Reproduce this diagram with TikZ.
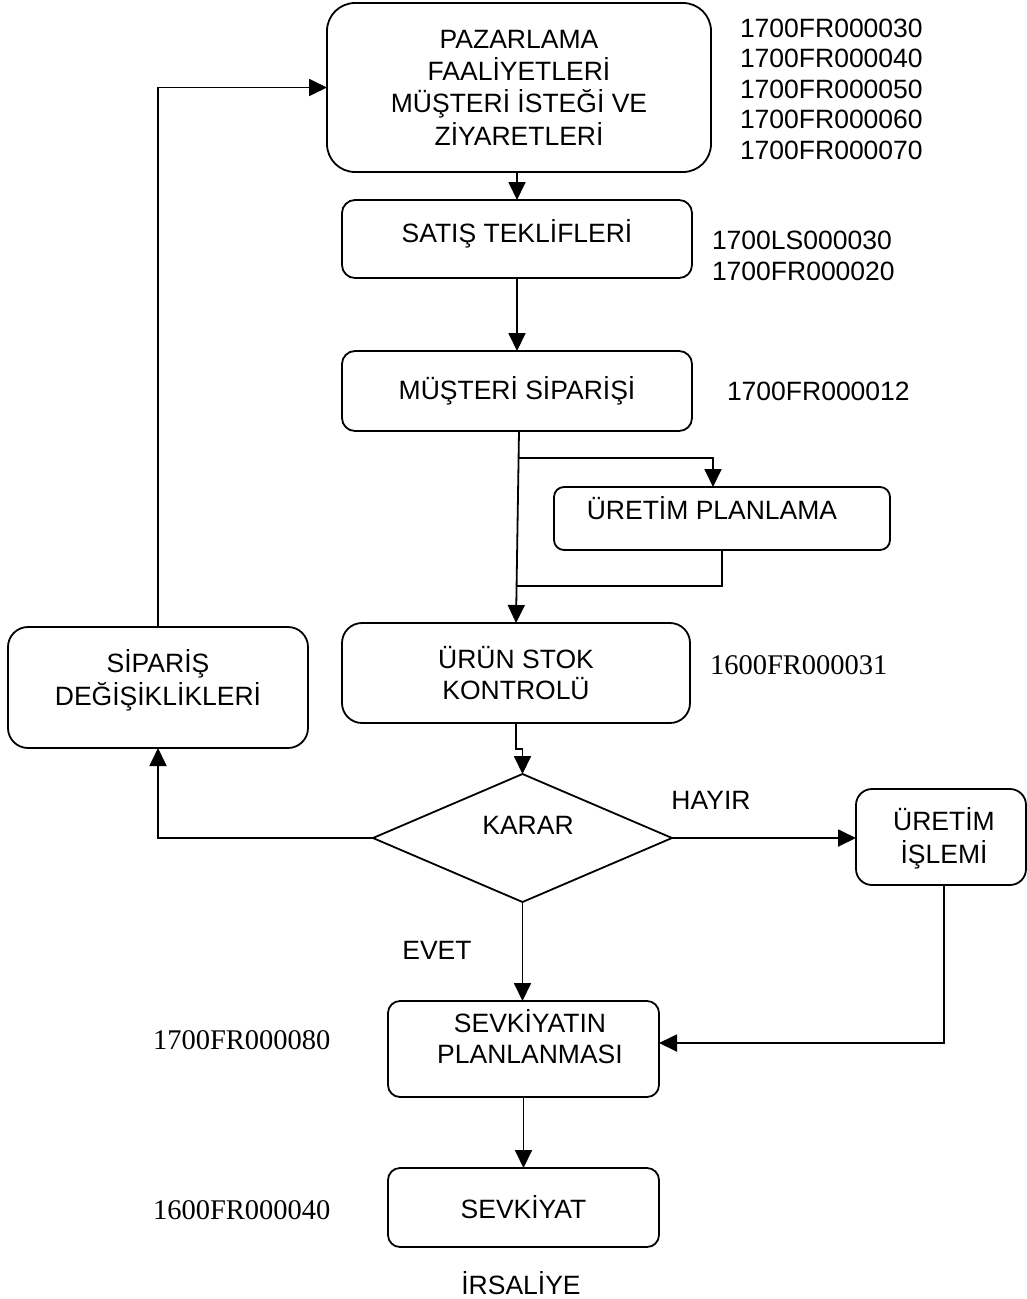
\documentclass[tikz,border=0pt]{standalone}
\usepackage{fontspec}
\setmainfont{Liberation Sans}
\newfontfamily\timesface{Liberation Serif}
\usetikzlibrary{arrows.meta,shapes.geometric,calc}

\newcommand\boxfs{\fontsize{26.5}{31}\selectfont}
\newcommand\codefs{\fontsize{26.5}{30.5}\selectfont}
\newcommand\serifcodefs{\timesface\fontsize{28.5}{32}\selectfont}
% text block lifted by #1 without changing its extents
\newcommand\liftby[2]{\raisebox{#1}[\height][\depth]{\begin{tabular}{@{}c@{}}#2\end{tabular}}}

\begin{document}
\begin{tikzpicture}[x=1pt,y=-1pt,
  every node/.style={inner sep=0pt, outer sep=0pt},
  flowbox/.style={draw, line width=1.8pt, rounded corners=#1, align=center, font=\boxfs},
  flowbox/.default=12pt,
  decision/.style={draw, diamond, shape aspect=2.34, line width=1.8pt, align=center, font=\boxfs},
  link/.style={line width=1.8pt},
  arr/.style={line width=1.8pt, -{Triangle[length=18pt,width=17pt]}},
  codes/.style={align=left, font=\codefs},
  scodes/.style={align=left, font=\serifcodefs},
  tag/.style={font=\boxfs}
]
\useasboundingbox (0,0) rectangle (1027,1299);

% process boxes
\node[flowbox=28pt, minimum width=384pt, minimum height=169pt] (paz) at (519,87.5)
  {\liftby{-3pt}{PAZARLAMA\\FAALİYETLERİ\\MÜŞTERİ İSTEĞİ VE\\ZİYARETLERİ}};
\node[flowbox=13pt, minimum width=350pt, minimum height=78pt] (sat) at (517,239)
  {\liftby{3pt}{SATIŞ TEKLİFLERİ}};
\node[flowbox=13pt, minimum width=350pt, minimum height=80pt] (mus) at (517,391)
  {MÜŞTERİ SİPARİŞİ};
\node[flowbox=10pt, minimum width=336pt, minimum height=63pt] (upl) at (722,518.5)
  {\liftby{5.5pt}{\hspace*{-20pt}ÜRETİM PLANLAMA}};
\node[flowbox=20pt, minimum width=348pt, minimum height=100pt] (urs) at (516,673)
  {ÜRÜN STOK\\KONTROLÜ};
\node[flowbox=20pt, minimum width=300pt, minimum height=121pt] (sip) at (158,687.5)
  {\liftby{5.5pt}{SİPARİŞ\\DEĞİŞİKLİKLERİ}};
\node[decision, minimum width=299pt, minimum height=128pt] (karar) at (522.5,838)
  {\liftby{10pt}{\hspace*{11pt}KARAR}};
\node[flowbox=16pt, minimum width=170pt, minimum height=96pt] (uis) at (941,837)
  {\liftby{-3pt}{\hspace*{6pt}ÜRETİM\\\hspace*{6pt}İŞLEMİ}};
\node[flowbox=12pt, minimum width=271pt, minimum height=96pt] (sevp) at (523.5,1049)
  {\liftby{8pt}{\hspace*{13pt}SEVKİYATIN\\\hspace*{13pt}PLANLANMASI}};
\node[flowbox=12pt, minimum width=271pt, minimum height=79pt] (sevk) at (523.5,1207.5)
  {SEVKİYAT};

% form codes
\node[codes, anchor=west] (cpaz) at (740,89)
  {1700FR000030\\1700FR000040\\1700FR000050\\1700FR000060\\1700FR000070};
\node[codes, anchor=west] (csat) at (712,256) {1700LS000030\\1700FR000020};
\node[codes, anchor=west] (cmus) at (727,391) {1700FR000012};
\node[scodes, anchor=west] (curs) at (710,665) {1600FR000031};
\node[scodes, anchor=west] (csevp) at (153,1040) {1700FR000080};
\node[scodes, anchor=west] (csevk) at (153,1210) {1600FR000040};

% branch labels and document
\node[tag] (hayir) at (711,800) {HAYIR};
\node[tag] (evet) at (437,950) {EVET};
\node[tag] (irs) at (521,1283) {İRSALİYE};

% connectors
\draw[arr] (paz.south -| sat.north) -- (sat.north);
\draw[arr] (sat.south) -- (mus.north);
\coordinate (br) at (518.5,458);
\coordinate (jn) at (516.5,586);
\draw[arr] ([xshift=2pt]mus.south) -- (urs.north);
\draw[arr] (br) -| ($(upl.north)+(-9,0)$);
\draw[link] (upl.south) |- (jn);
\draw[arr] (urs.south) -- ++(0,26) -| (karar.north);
\draw[arr] (karar.west) -| (sip.south);
\draw[arr] (sip.north) |- (paz.west);
\draw[arr] (karar.east) -- (karar.east -| uis.west);
\draw[arr] (karar.south) -- (karar.south |- sevp.north);
\draw[arr] ([xshift=3pt]uis.south) |- ([yshift=6pt]sevp.east);
\draw[arr] (sevp.south) -- (sevk.north);
\end{tikzpicture}
\end{document}
